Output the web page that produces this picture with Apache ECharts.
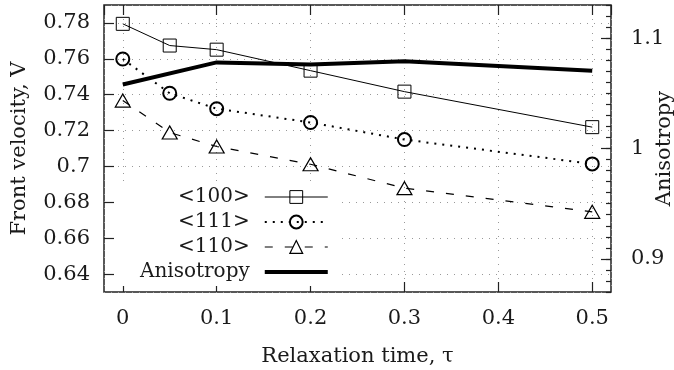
<!DOCTYPE html>
<html>
<head>
<meta charset="utf-8">
<script src="https://cdn.jsdelivr.net/npm/echarts@6/dist/echarts.min.js"></script>
<style>
  html, body { margin: 0; padding: 0; background: #fff; }
  #chart { width: 674px; height: 370px; }
</style>
</head>
<body>
<div id="chart"></div>
<script>
// relaxation times
const tau = [0, 0.05, 0.1, 0.2, 0.3, 0.5]
// front velocity per direction
const v100 = [0.7795, 0.7674, 0.7651, 0.7534, 0.7417, 0.7219]
const v111 = [0.7599, 0.7408, 0.7322, 0.7245, 0.715, 0.7014]
const v110 = [0.7367, 0.7189, 0.7111, 0.7012, 0.6879, 0.6747]
// anisotropy (right axis)
const anisoTau = [0, 0.1, 0.2, 0.3, 0.5]
const aniso = [1.058, 1.078, 1.076, 1.079, 1.0705]

const font = 'DejaVu Serif'
const ink = '#1a1a1a'
const pairs = (xs, ys) => xs.map((x, i) => [x, ys[i]])

const chart = echarts.init(document.getElementById('chart'))

const gridLine = { show: true, lineStyle: { color: '#999', width: 1, type: [1, 6] } }
const noLine = { show: false, onZero: false }
const tick = (len) => ({ show: true, inside: true, length: len, lineStyle: { color: '#222', width: 1.2 } })
const labelStyle = { fontFamily: font, fontSize: 21, color: ink }

const option = {
  animation: false,
  backgroundColor: '#fff',
  textStyle: { fontFamily: font, color: ink },
  grid: {
    left: 104, right: 63, top: 5, bottom: 78,
    outerBoundsMode: 'none',
    show: true, borderColor: '#222', borderWidth: 1.5,
  },
  legend: {
    orient: 'vertical',
    left: 118,
    top: 181,
    align: 'right',
    backgroundColor: '#fff',
    padding: [6, 12, 4, 22],
    itemWidth: 63,
    itemHeight: 16,
    itemGap: 5,
    lineStyle: { width: 'inherit' },
    itemStyle: { borderWidth: 'inherit' },
    textStyle: { fontFamily: font, fontSize: 20, color: ink, padding: [0, 10, 0, 0] },
    data: [
      '<100>',
      '<111>',
      '<110>',
      { name: 'Anisotropy', icon: 'path://M0 0H63V4H0Z' },
    ],
  },
  xAxis: [
    {
      type: 'value',
      min: -0.02, max: 0.52, splitNumber: 5,
      name: 'Relaxation time, τ',
      nameLocation: 'middle',
      nameGap: 54,
      nameMoveOverlap: false,
      nameTextStyle: labelStyle,
      axisLine: noLine,
      axisTick: tick(10),
      axisLabel: { ...labelStyle, margin: 16, showMinLabel: false, showMaxLabel: false },
      splitLine: gridLine,
    },
    {
      // mirror ticks on the top border
      type: 'value', position: 'top',
      min: -0.02, max: 0.52, splitNumber: 5,
      axisLine: noLine,
      axisTick: tick(10),
      axisLabel: { show: false },
      splitLine: { show: false },
    },
  ],
  yAxis: [
    {
      type: 'value',
      min: 0.63, max: 0.79, splitNumber: 8,
      name: 'Front velocity, V',
      nameLocation: 'middle',
      nameGap: 74,
      nameMoveOverlap: false,
      nameTextStyle: labelStyle,
      axisLine: noLine,
      axisTick: tick(10),
      axisLabel: { ...labelStyle, margin: 14, showMinLabel: false, showMaxLabel: false },
      splitLine: gridLine,
    },
    {
      // minor ticks on the right border
      type: 'value', position: 'right',
      min: 0.87, max: 1.13, interval: 0.01,
      axisLine: noLine,
      axisTick: tick(5),
      axisLabel: { show: false },
      splitLine: { show: false },
    },
    {
      type: 'value', position: 'right',
      min: 0.87, max: 1.13, splitNumber: 3,
      name: 'Anisotropy',
      nameLocation: 'middle',
      nameRotate: 90,
      nameGap: 43,
      nameMoveOverlap: false,
      nameTextStyle: labelStyle,
      axisLine: noLine,
      axisTick: tick(10),
      axisLabel: { ...labelStyle, margin: 20, showMinLabel: false, showMaxLabel: false },
      splitLine: { show: false },
    },
  ],
  series: [
    {
      name: '<100>', type: 'line',
      data: pairs(tau, v100),
      symbol: 'rect', symbolSize: 13,
      itemStyle: { color: 'transparent', borderColor: '#000', borderWidth: 1 },
      lineStyle: { color: '#000', width: 1 },
    },
    {
      name: '<111>', type: 'line',
      data: pairs(tau, v111),
      symbol: 'circle', symbolSize: 13,
      itemStyle: { color: 'transparent', borderColor: '#000', borderWidth: 2 },
      lineStyle: { color: '#000', width: 2, type: [2, 6] },
    },
    {
      name: '<110>', type: 'line',
      data: pairs(tau, v110),
      symbol: 'triangle', symbolSize: [15, 13],
      itemStyle: { color: 'transparent', borderColor: '#000', borderWidth: 1.2 },
      lineStyle: { color: '#000', width: 1.2, type: [8, 12] },
    },
    {
      name: 'Anisotropy', type: 'line',
      yAxisIndex: 2,
      data: pairs(anisoTau, aniso),
      symbol: 'none',
      itemStyle: { color: '#000' },
      lineStyle: { color: '#000', width: 4 },
    },
  ],
}

chart.setOption(option)
</script>
</body>
</html>
